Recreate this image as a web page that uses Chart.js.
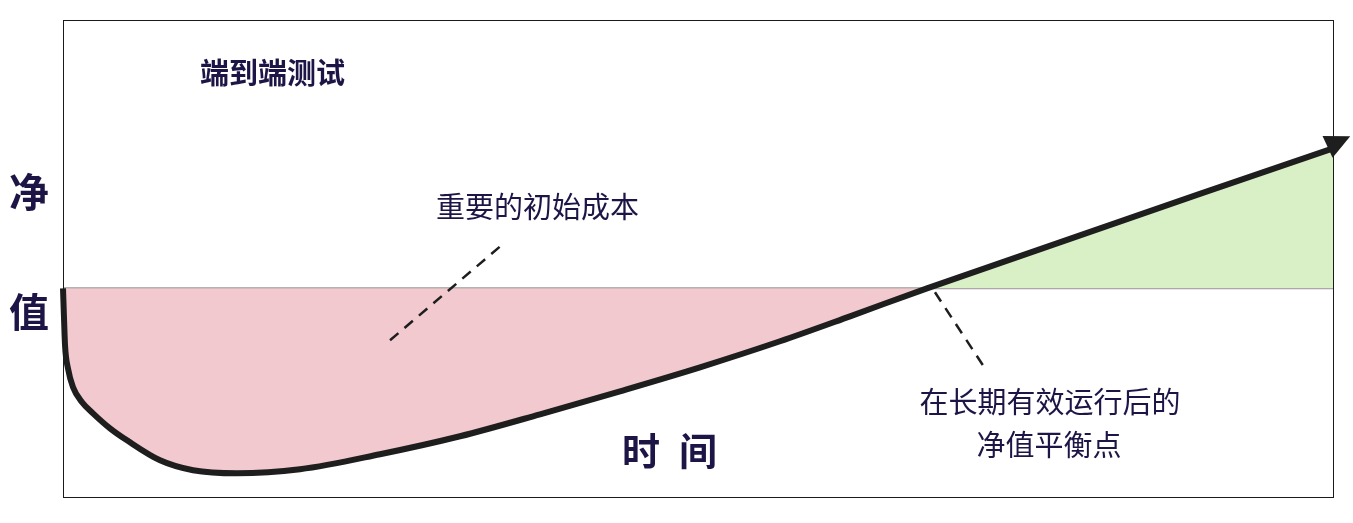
<!DOCTYPE html>
<html>
<head>
<meta charset="utf-8">
<script src="https://cdn.jsdelivr.net/npm/chart.js@4"></script>
<style>
  html, body { margin: 0; padding: 0; background: #ffffff; }
  #wrap { width: 1353px; height: 523px; position: relative; }
</style>
</head>
<body>
<div id="wrap"><canvas id="c" width="1353" height="523"></canvas></div>
<script>
// Time axis (0..100) and net value (0 = break-even)
const timeValues = [0, 0.08, 0.16, 0.39, 0.79, 1.50, 2.36, 3.70, 5.04, 7.64, 10.24, 13.70, 18.66, 24.96, 31.26, 37.56, 43.86, 50.16, 56.46, 61.97, 68.03, 100];
const netValues  = [0, -3.02, -5.74, -8.05, -9.96, -11.47, -12.58, -14.09, -15.30, -17.31, -18.31, -18.62, -18.21, -16.70, -14.89, -12.68, -10.36, -7.95, -5.33, -2.82, 0, 14.09];
const zeroLineX = [0, 100];
const zeroLineY = [0, 0];

const titleText = '端到端测试';
const yAxisChars = ['净', '值'];
const xAxisChars = ['时', '间'];
const costLabel = '重要的初始成本';
const breakEvenLines = ['在长期有效运行后的', '净值平衡点'];
// leader lines (data coordinates): [x1, y1, x2, y2]
const costLeader = [25.75, -5.23, 34.80, 4.63];
const breakEvenLeader = [68.66, -0.40, 72.44, -7.75];

const curveData = timeValues.map((t, i) => ({ x: t, y: netValues[i] }));
const zeroData = zeroLineX.map((t, i) => ({ x: t, y: zeroLineY[i] }));

const TEXT = '#1c1545';
const CJK = '"Noto Sans CJK SC", "Noto Sans", sans-serif';

const decor = {
  id: 'decor',
  afterDatasetsDraw(chart) {
    const { ctx, chartArea: a, scales: { x, y } } = chart;
    ctx.save();
    // frame
    ctx.strokeStyle = '#1a1a1a';
    ctx.lineWidth = 1;
    ctx.strokeRect(a.left + 0.5, a.top + 0.5, a.right - a.left, a.bottom - a.top);

    // arrow head at end of curve
    const n = curveData.length;
    const ex = x.getPixelForValue(curveData[n - 1].x), ey = y.getPixelForValue(curveData[n - 1].y);
    const px = x.getPixelForValue(curveData[n - 2].x), py = y.getPixelForValue(curveData[n - 2].y);
    let ang = Math.atan2(ey - py, ex - px) - 0.10;
    const dx = Math.cos(ang), dy = Math.sin(ang);
    const tipx = ex + dx * 19, tipy = ey + dy * 19 - 4;
    const bx = ex - dx * 6, by = ey - dy * 6 - 4;
    ctx.fillStyle = '#1e1e1e';
    ctx.beginPath();
    ctx.moveTo(tipx, tipy);
    ctx.lineTo(bx - dy * 12, by + dx * 12);
    ctx.lineTo(bx + dy * 12, by - dx * 12);
    ctx.closePath();
    ctx.fill();

    // dashed leaders
    ctx.strokeStyle = '#1e1e1e';
    ctx.lineWidth = 2.5;
    ctx.setLineDash([11, 8]);
    [costLeader, breakEvenLeader].forEach(l => {
      ctx.beginPath();
      ctx.moveTo(x.getPixelForValue(l[0]), y.getPixelForValue(l[1]));
      ctx.lineTo(x.getPixelForValue(l[2]), y.getPixelForValue(l[3]));
      ctx.stroke();
    });
    ctx.setLineDash([]);

    // texts
    ctx.fillStyle = TEXT;
    ctx.textBaseline = 'middle';
    ctx.textAlign = 'left';
    ctx.font = 'bold 29px ' + CJK;
    ctx.fillText(titleText, 200, 73);
    ctx.font = '29px ' + CJK;
    ctx.fillText(costLabel, 436, 207);
    ctx.textAlign = 'center';
    ctx.fillText(breakEvenLines[0], 1050, 402);
    ctx.fillText(breakEvenLines[1], 1049, 445);
    ctx.font = 'bold 38px ' + CJK;
    ctx.fillText(xAxisChars[0], 641, 451);
    ctx.fillText(xAxisChars[1], 698, 451);
    ctx.font = 'bold 40px ' + CJK;
    ctx.fillText(yAxisChars[0], 29, 192);
    ctx.fillText(yAxisChars[1], 29, 312);
    ctx.restore();
  }
};

new Chart(document.getElementById('c'), {
  type: 'line',
  data: {
    datasets: [
      {
        label: 'zero',
        data: zeroData,
        borderColor: '#9a9a9a',
        borderWidth: 2,
        pointRadius: 0,
        fill: false,
        order: 2
      },
      {
        label: 'net',
        data: curveData,
        borderColor: '#1e1e1e',
        borderWidth: 6,
        pointRadius: 0,
        cubicInterpolationMode: 'monotone',
        fill: { target: 'origin', above: '#d9efc5', below: '#f2c9cf' },
        clip: false,
        order: 1
      }
    ]
  },
  options: {
    responsive: false,
    animation: false,
    devicePixelRatio: 1,
    layout: { padding: { left: 63, right: 20, top: 20, bottom: 26 } },
    plugins: { legend: { display: false }, tooltip: { enabled: false } },
    scales: {
      x: { type: 'linear', min: 0, max: 100, display: false },
      y: { type: 'linear', min: -21, max: 27, display: false }
    }
  },
  plugins: [decor]
});
</script>
</body>
</html>
